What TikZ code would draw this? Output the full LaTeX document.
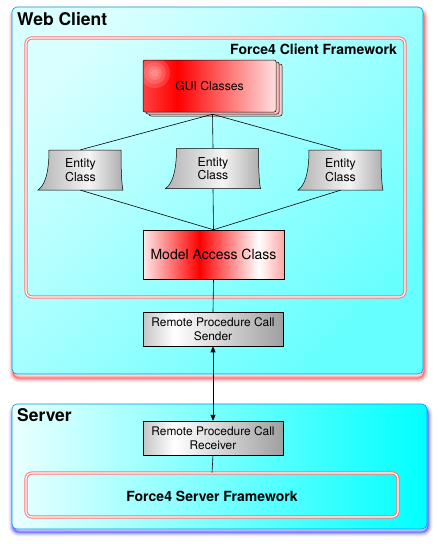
\documentclass[tikz,border=0pt]{standalone}
\usepackage{fontspec}
\setmainfont{TeX Gyre Heros}
\usetikzlibrary{arrows.meta}

\pgfdeclarehorizontalshading{guishade}{100bp}{color(0bp)=(red!75); color(25bp)=(red!75); color(38bp)=(red); color(75bp)=(red!12); color(100bp)=(red!12)}
\pgfdeclarehorizontalshading{modelshade}{100bp}{color(0bp)=(red!8); color(25bp)=(red!8); color(45bp)=(red); color(66bp)=(white); color(75bp)=(red!35); color(100bp)=(red!35)}
\pgfdeclarehorizontalshading{rpcshade}{100bp}{color(0bp)=(gray!45); color(25bp)=(gray!45); color(36bp)=(white); color(75bp)=(gray!75); color(100bp)=(gray!75)}
\pgfdeclarehorizontalshading{entityshade}{100bp}{color(0bp)=(gray!60); color(25bp)=(gray!60); color(55bp)=(gray!8); color(75bp)=(gray!65); color(100bp)=(gray!65)}

\begin{document}
\begin{tikzpicture}[x=1pt, y=-1pt,
  area/.style={draw=cyan!80!blue, line width=0.6pt, rounded corners=5pt, inner sep=0pt},
  frame/.style={draw=red!55, line width=1pt, double=white, double distance=1.2pt, rounded corners=6pt, inner sep=0pt},
  title/.style={font=\fontsize{17.5}{20}\selectfont\bfseries, inner sep=0pt},
  subtitle/.style={font=\fontsize{14}{16}\selectfont\bfseries, inner sep=0pt},
  cls/.style={draw=black, line width=0.5pt, inner sep=0pt, align=center},
  gui/.style={cls, rounded corners=2pt, minimum width=133pt, minimum height=52pt},
  rpc/.style={cls, shade, shading=rpcshade, minimum width=140pt, minimum height=34pt, font=\fontsize{11.9}{13.8}\selectfont},
  entity/.style={inner sep=0pt, align=center, font=\fontsize{12.3}{13.6}\selectfont},
  link/.style={draw=black, line width=0.6pt}]

\useasboundingbox (0,0) rectangle (438,544);

% web client area
\foreach \w/\o in {9/0.05, 7/0.08, 5/0.12, 3/0.18, 1/0.3}
  \draw[red, line width=\w pt, opacity=\o, rounded corners=6pt] (13,11) rectangle (424,378);
\node[area, top color=cyan!15, bottom color=cyan!60, shading angle=45, minimum width=411pt, minimum height=367pt] (web) at (217.5,190.5) {};
\node[title, anchor=base west] (webtitle) at (17,25) {Web Client};

\node[frame, minimum width=379pt, minimum height=259pt] (client) at (215.5,167.5) {};
\node[subtitle, anchor=base east] (clienttitle) at (397,54) {Force4 Client Framework};

% GUI stack
\node[gui, fill=red!20] (guiback) at (215.5,90) {};
\node[gui, fill=red!25] (gui) at (212.5,88) {};
\node[gui, shade, shading=guishade, font=\fontsize{12.2}{14}\selectfont,
  path picture={\foreach \r in {15,11,7,4}
    \fill[white, opacity=0.14] ([shift={(12,13)}]path picture bounding box.north west) circle (\r pt);}]
  (guifront) at (209.5,86) {GUI Classes};

% entity shapes
\foreach \cx/\cy/\w in {80.5/170/85, 213/168.5/95, 340.5/170/85}
  \shadedraw[shading=entityshade, line width=0.5pt]
    (\cx-\w/2+11, \cy-20) -- (\cx+\w/2-2, \cy-20)
    .. controls (\cx+\w/2-2, \cy+5) and (\cx+\w/2-1, \cy+16) .. (\cx+\w/2, \cy+20)
    -- (\cx-\w/2, \cy+20)
    .. controls (\cx-\w/2+6, \cy+16) and (\cx-\w/2+11, \cy+5) .. cycle;
\node[entity, minimum width=85pt, minimum height=40pt] (ent1) at (80.5,170) {Entity\\Class};
\node[entity, minimum width=95pt, minimum height=41pt] (ent2) at (213,168.5) {Entity\\Class};
\node[entity, minimum width=85pt, minimum height=40pt] (ent3) at (340.5,170) {Entity\\Class};

\node[cls, shade, shading=modelshade, minimum width=141pt, minimum height=49pt, font=\fontsize{14}{16}\selectfont] (model) at (213.5,254.5) {Model Access Class};

\node[rpc] (sender) at (213,329) {Remote Procedure Call\\Sender};

% server area
\foreach \w/\o in {9/0.05, 7/0.08, 5/0.12, 3/0.18, 1/0.3}
  \draw[blue, line width=\w pt, opacity=\o, rounded corners=6pt] (13,408) rectangle (428,532);
\node[area, left color=cyan!8, middle color=cyan!70, right color=cyan, minimum width=415pt, minimum height=125pt] (server) at (219.5,466.5) {};
\node[title, anchor=base west] (servertitle) at (17,421.5) {Server};

\node[rpc] (receiver) at (213,438) {Remote Procedure Call\\Receiver};

\node[frame, minimum width=372pt, minimum height=44pt] (serverfw) at (212,495) {};
\node[subtitle, anchor=base] (serverfwtitle) at (212,501.5) {Force4 Server Framework};

% connectors
\draw[link] (gui.south) -- (ent1.north);
\draw[link] (gui.south) -- (ent2.north);
\draw[link] (gui.south) -- (ent3.north);
\draw[link] (ent1.south) -- (model.north);
\draw[link] (ent2.south) -- (model.north);
\draw[link] (ent3.south) -- (model.north);
\draw[link] (model.south) -- (sender.north);
\draw[link, {Triangle[length=6pt,width=5pt]}-{Triangle[length=6pt,width=5pt]}] (sender.south) -- (receiver.north);
\draw[link] (receiver.south) -- (serverfw.north);
\end{tikzpicture}
\end{document}
